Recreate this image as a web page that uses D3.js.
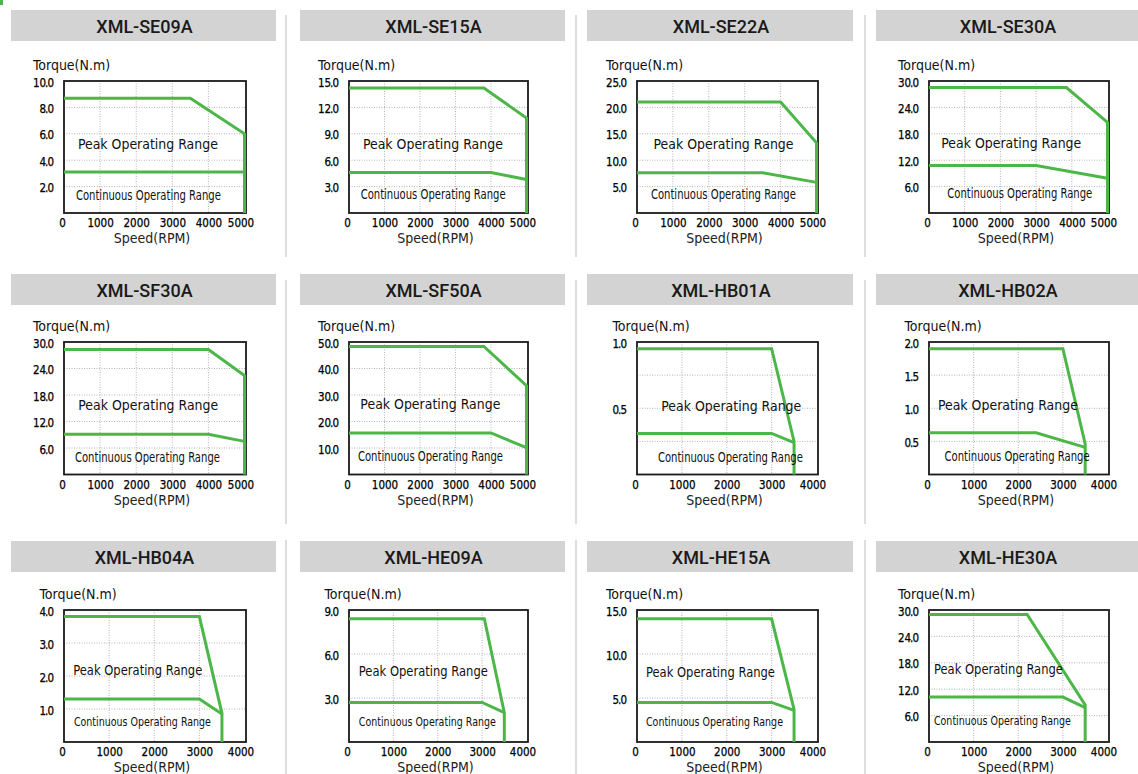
<!DOCTYPE html>
<html><head><meta charset="utf-8">
<script src="https://cdn.jsdelivr.net/npm/d3@7"></script>
<style>
html,body{margin:0;padding:0;background:#fff;}
svg{display:block;}
</style></head><body>
<svg id="chart" width="1138" height="774"></svg>
<script>
// ---------- DATA ----------
const models = ["XML-SE09A","XML-SE15A","XML-SE22A","XML-SE30A",
                "XML-SF30A","XML-SF50A","XML-HB01A","XML-HB02A",
                "XML-HB04A","XML-HE09A","XML-HE15A","XML-HE30A"];
const speedMax  = [5000,5000,5000,5000,5000,5000,4000,4000,4000,4000,4000,4000];
const torqueMax = [10,15,25,30,30,50,1,2,4,9,15,30];
const yTickLabels = [
  [2,4,6,8,10],[3,6,9,12,15],[5,10,15,20,25],[6,12,18,24,30],
  [6,12,18,24,30],[10,20,30,40,50],[0.5,1.0],[0.5,1.0,1.5,2.0],
  [1,2,3,4],[3,6,9],[5,10,15],[6,12,18,24,30]];
const yGridValues = [
  [2,4,6,8],[3,6,9,12],[5,10,15,20],[6,12,18,24],
  [6,12,18,24],[10,20,30,40],[0.25,0.5,0.75],[0.5,1.0,1.5],
  [1,2,3],[3,6],[5,10],[6,12,18,24]];
const xTickStep = 1000;
const peakSpeed = [
  [0,3500,5000,5000],[0,3800,5000,5000],[0,4000,5000,5000],[0,3850,5000,5000],
  [0,4000,5000,5000],[0,3800,5000,5000],[0,3000,3500,3500],[0,3000,3500,3500],
  [0,3000,3500,3500],[0,3050,3500,3500],[0,3000,3500,3500],[0,2200,3500,3500]];
const peakTorque = [
  [8.7,8.7,6.0,0],[14.2,14.2,10.8,0],[21.0,21.0,13.3,0],[28.5,28.5,20.6,0],
  [28.3,28.3,22.4,0],[48.3,48.3,33.5,0],[0.95,0.95,0.25,0],[1.9,1.9,0.46,0],
  [3.8,3.8,0.87,0],[8.4,8.4,2.0,0],[14.0,14.0,3.7,0],[29.0,29.0,8.4,0]];
const contSpeed = [
  [0,5000],[0,4000,5000],[0,3500,5000],[0,3000,5000],
  [0,4000,5000],[0,4000,5000],[0,3000,3500],[0,2400,3500],
  [0,3000,3500],[0,3000,3500],[0,3000,3500],[0,3000,3500]];
const contTorque = [
  [3.1,3.1],[4.6,4.6,3.8],[7.6,7.6,5.8],[10.8,10.8,7.9],
  [9.1,9.1,7.5],[15.7,15.7,10.1],[0.31,0.31,0.24],[0.63,0.63,0.41],
  [1.3,1.3,0.85],[2.7,2.7,2.0],[4.5,4.5,3.6],[10.2,10.2,7.8]];
const peakLabel = "Peak Operating Range";
const contLabel = "Continuous Operating Range";
const yTitle = "Torque(N.m)";
const xTitle = "Speed(RPM)";
// label anchors (speed, torque) of the region names
const peakLabelAt = [[385,4.88],[392,7.31],[460,12.15],[344,14.8],[394,14.5],[320,24.9],
                     [541,0.479],[200,0.97],[205,2.03],[222,4.51],[200,7.44],[111,15.4]];
const contLabelAt = [[330,1.0],[328,1.6],[388,2.65],[511,3.4],[303,2.8],[253,5.1],
                     [466,0.095],[349,0.2],[220,0.48],[222,1.07],[200,1.77],[111,3.9]];

// ---------- LAYOUT ----------
const GREEN = "#4cb748";
const colBoxLeft = [64,349,637,929], colBoxWidth = [182,179,181,180];
const rowBoxTop = [81,342,610], rowBoxHeight = [132,132.5,132];
const colHeadX = [11,300,587,876], colHeadW = [265,265,266,262];
const rowHeadY = [10,274,541], headH = 31;
const sepX = [286,576,865], rowSep = [[15,257],[280,524],[540,774]];
const peakW = [140,140,129], contW = [145,145,137];
const peakFs = [14.5,14.5,13.5], contFs = [14,14,13];
const condFont = "'DejaVu Sans Condensed','DejaVu Sans',sans-serif";
const numFont = "'Liberation Sans Narrow','Arial Narrow','DejaVu Sans Condensed',sans-serif";

const svg = d3.select("#chart");
svg.append("rect").attr("x",0).attr("y",0).attr("width",3).attr("height",5).attr("fill",GREEN);

// separators
rowSep.forEach(rs => sepX.forEach(sx => {
  svg.append("line").attr("x1",sx).attr("x2",sx).attr("y1",rs[0]).attr("y2",rs[1])
    .attr("stroke","#c8c8c8").attr("stroke-width",1.2);
}));

function splitDecimal(sel){
  sel.each(function(){
    const t = d3.select(this);
    const s = t.text();
    const parts = s.split(".");
    t.text(null);
    t.append("tspan").text(parts[0]);
    t.append("tspan").attr("dx",-1).text(".");
    t.append("tspan").attr("dx",-1).text(parts[1]);
  });
}

models.forEach((name,i) => {
  const c = i % 4, r = Math.floor(i / 4);
  // header
  svg.append("rect").attr("x",colHeadX[c]).attr("y",rowHeadY[r]).attr("width",colHeadW[c]).attr("height",headH)
    .attr("fill","#d3d3d3");
  svg.append("text").attr("x",colHeadX[c]+colHeadW[c]/2+1).attr("y",rowHeadY[r]+23)
    .attr("text-anchor","middle").attr("font-family","Roboto,'DejaVu Sans',sans-serif").attr("font-weight",500)
    .attr("font-size",18).attr("fill","#1a1a1a").text(name);

  const L = colBoxLeft[c], T = rowBoxTop[r], W = colBoxWidth[c], H = rowBoxHeight[r];
  const x = d3.scaleLinear().domain([0,speedMax[i]]).range([0,W-1.5]);
  const y = d3.scaleLinear().domain([0,torqueMax[i]]).range([H,0]);
  const g = svg.append("g").attr("transform",`translate(${L},${T})`);
  const xTicks = d3.range(0, speedMax[i]+1, xTickStep);

  // grid
  g.selectAll(".vg").data(xTicks.filter(v => v>0 && v<speedMax[i])).join("line")
    .attr("x1",d=>x(d)).attr("x2",d=>x(d)).attr("y1",0).attr("y2",H)
    .attr("stroke","#b4b4b4").attr("stroke-width",1).attr("stroke-dasharray","1,1.5");
  g.selectAll(".hg").data(yGridValues[i]).join("line")
    .attr("x1",0).attr("x2",W).attr("y1",d=>y(d)).attr("y2",d=>y(d))
    .attr("stroke","#b4b4b4").attr("stroke-width",1).attr("stroke-dasharray","1,1.5");

  // frame
  g.append("rect").attr("width",W).attr("height",H).attr("fill","none")
    .attr("stroke","#1a1a1a").attr("stroke-width",1.8);

  // curves
  const line = d3.line().x(d=>x(d[0])).y(d=>y(d[1]));
  g.append("path").datum(d3.zip(peakSpeed[i],peakTorque[i])).attr("d",line)
    .attr("fill","none").attr("stroke",GREEN).attr("stroke-width",3).attr("stroke-linejoin","miter");
  g.append("path").datum(d3.zip(contSpeed[i],contTorque[i])).attr("d",line)
    .attr("fill","none").attr("stroke",GREEN).attr("stroke-width",3);

  // region labels
  g.append("text").attr("x",x(peakLabelAt[i][0])).attr("y",y(peakLabelAt[i][1]))
    .attr("font-family",condFont).attr("font-size",peakFs[r]).attr("fill","#111")
    .attr("textLength",peakW[r]).attr("lengthAdjust","spacingAndGlyphs").text(peakLabel);
  g.append("text").attr("x",x(contLabelAt[i][0])).attr("y",y(contLabelAt[i][1]))
    .attr("font-family",condFont).attr("font-size",contFs[r]).attr("fill","#111")
    .attr("textLength",contW[r]).attr("lengthAdjust","spacingAndGlyphs").text(contLabel);

  // x axis
  const xg = g.append("g").attr("transform",`translate(0,${H})`)
    .call(d3.axisBottom(x).tickValues(xTicks).tickSize(0).tickPadding(6).tickFormat(d3.format("d")));
  xg.select(".domain").remove();
  xg.selectAll("text").attr("font-family",numFont).attr("font-size",11.5).attr("fill","#000")
    .attr("stroke","#000").attr("stroke-width",0.25)
    .attr("dx",(d)=> d===0 ? -2 : (d===speedMax[i] ? -4 : 0));

  // y axis
  const yg = g.append("g")
    .call(d3.axisLeft(y).tickValues(yTickLabels[i]).tickSize(0).tickPadding(10).tickFormat(d3.format(".1f")));
  yg.select(".domain").remove();
  yg.selectAll("text").attr("font-family",numFont).attr("font-size",11.5).attr("fill","#000")
    .attr("stroke","#000").attr("stroke-width",0.25).attr("dy","0.45em")
    .call(splitDecimal);

  const bb = yg.node().getBBox();
  g.append("text").attr("x",bb.x).attr("y",-11)
    .attr("font-family",condFont).attr("font-size",14).attr("fill","#111").text(yTitle);
  g.append("text").attr("x",W/2-3).attr("y",H+30).attr("text-anchor","middle")
    .attr("font-family",condFont).attr("font-size",14).attr("fill","#222").text(xTitle);
});
</script>
</body></html>
